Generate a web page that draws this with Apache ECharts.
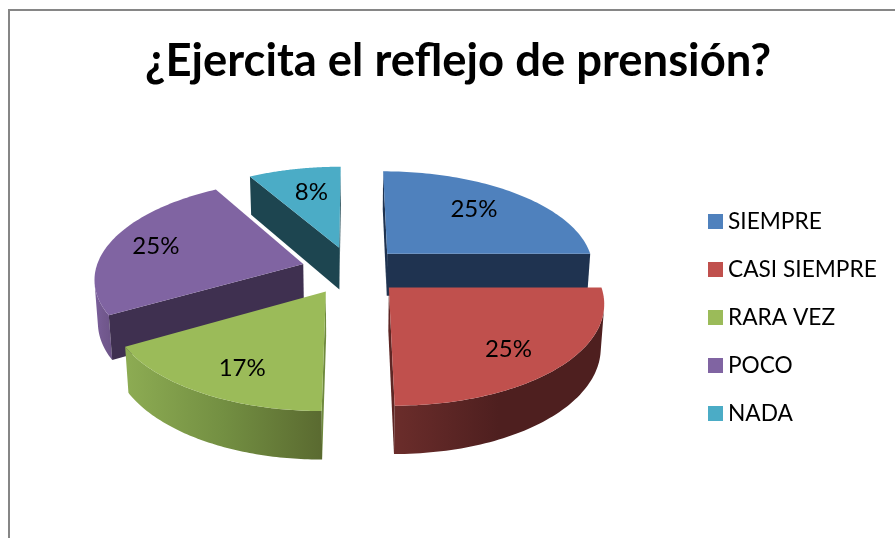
<!DOCTYPE html>
<html><head><meta charset="utf-8">
<style>html,body{margin:0;padding:0;background:#fff}#c{width:895px;height:538px}</style>
<script src="https://cdn.jsdelivr.net/npm/echarts@6/dist/echarts.min.js"></script>
</head><body><div id="c"></div>
<script>
const titleText = '¿Ejercita el reflejo de prensión?';
const categories = ['SIEMPRE', 'CASI SIEMPRE', 'RARA VEZ', 'POCO', 'NADA'];
const values = [3, 3, 2, 3, 1];

// styles
const topColors = ['#4F81BD', '#C0504D', '#9BBB59', '#8064A2', '#4BACC6'];
const wallColors = ['#1F3350', '#5E2624', '#6F8A3E', '#3F3050', '#1D4550'];
const rimStops = [
  ['#1F3350', '#1F3350', '#1F3350'],
  ['#6B2D2B', '#4E1F1F', '#4E1F1F'],
  ['#8DAC53', '#738F42', '#5A6A30'],
  ['#7A5F9B', '#73598F', '#6C5488'],
  ['#1D4550', '#1D4550', '#1D4550']
];
const drawOrder = [4, 0, 3, 2, 1];   // back to front
const labelRadius = [0.72, 0.74, 0.72, 0.74, 0.66];
const labelNudge = [[-8, 0], [-3, 4], [3, 6], [-5, 0], [3, -2]];

// perspective camera fitted to the picture (pie radius = 1)
const cam = { vx: 352, vy: -461.5, ax: 1560, by: 5495, t: 7.51, depthB: 398, depthT: 0.1, explode: 0.245 };
function project(X, Y, low) {
  const s = cam.t + Y + (low ? cam.depthT : 0);
  return [cam.vx + cam.ax * X / s, cam.vy + (cam.by + (low ? cam.depthB : 0)) / s];
}
function area(q) {
  let a = 0;
  for (let i = 0; i < q.length; i++) {
    const p = q[i], n = q[(i + 1) % q.length];
    a += p[0] * n[1] - n[0] * p[1];
  }
  return a;
}

const total = values.reduce((a, b) => a + b, 0);
const starts = [];
values.reduce((acc, v, i) => { starts[i] = acc; return acc + v; }, 0);

function renderSlice(i, api) {
  const value = api.value(0);
  const a0 = starts[i] / total * 2 * Math.PI;
  const a1 = a0 + value / total * 2 * Math.PI;
  const mid = (a0 + a1) / 2;
  const ox = cam.explode * Math.sin(mid), oy = cam.explode * Math.cos(mid);
  const world = a => [ox + Math.sin(a), oy + Math.cos(a)];
  const steps = 72;
  const rim = [];
  for (let k = 0; k <= steps; k++) rim.push(world(a0 + (a1 - a0) * k / steps));
  const T = p => project(p[0], p[1], false), B = p => project(p[0], p[1], true);
  const apex = [ox, oy];
  const children = [];

  // outer rim: only the segments that face the viewer
  const rimTop = [], rimBot = [];
  for (let k = 0; k < steps; k++) {
    const quad = [T(rim[k]), T(rim[k + 1]), B(rim[k + 1]), B(rim[k])];
    if (area(quad) < 0) {
      if (!rimTop.length) { rimTop.push(quad[0]); rimBot.push(quad[3]); }
      rimTop.push(quad[1]); rimBot.push(quad[2]);
    }
  }
  if (rimTop.length) {
    children.push({
      type: 'polygon', shape: { points: rimTop.concat(rimBot.reverse()) },
      style: { fill: new echarts.graphic.LinearGradient(0, 0, 1, 0, [
        { offset: 0, color: rimStops[i][0] },
        { offset: 0.5, color: rimStops[i][1] },
        { offset: 1, color: rimStops[i][2] }
      ]), stroke: null }
    });
  }
  // cut walls
  [[apex, rim[0]], [rim[steps], apex]].forEach(e => {
    const quad = [T(e[0]), T(e[1]), B(e[1]), B(e[0])];
    if (area(quad) < 0) {
      children.push({ type: 'polygon', shape: { points: quad }, style: { fill: wallColors[i] } });
    }
  });
  // top face
  children.push({
    type: 'polygon', shape: { points: [apex].concat(rim).map(T) },
    style: { fill: topColors[i] }
  });
  // percent label
  const lr = labelRadius[i];
  const lp = T([ox + lr * Math.sin(mid), oy + lr * Math.cos(mid)]);
  children.push({
    type: 'text', x: lp[0] + labelNudge[i][0], y: lp[1] + labelNudge[i][1],
    style: {
      text: Math.round(value / total * 100) + '%',
      fill: '#000', font: '24px Lato', align: 'center', verticalAlign: 'middle'
    }
  });
  return { type: 'group', children };
}

const chart = echarts.init(document.getElementById('c'), null, { renderer: 'canvas' });
chart.setOption({
  animation: false,
  backgroundColor: '#fff',
  title: {
    text: titleText, left: 140, top: 34,
    textStyle: { fontFamily: 'Lato', fontWeight: 'bold', fontSize: 45.4, color: '#000' }
  },
  legend: {
    orient: 'vertical', left: 708, top: 208.5, padding: 0, icon: 'rect',
    itemWidth: 15, itemHeight: 15, itemGap: 22,
    data: categories,
    textStyle: { fontFamily: 'Lato', fontSize: 22.7, color: '#000', lineHeight: 26 }
  },
  graphic: [{
    type: 'rect', silent: true, z: -1,
    shape: { x: 9, y: 10, width: 1000, height: 1000 },
    style: { fill: 'none', stroke: '#868686', lineWidth: 2 }
  }],
  series: categories.map((name, i) => ({
    type: 'custom', name, coordinateSystem: 'none',
    z: 2 + drawOrder.indexOf(i), silent: true,
    itemStyle: { color: topColors[i] },
    data: [[values[i]]],
    renderItem: (params, api) => renderSlice(i, api)
  }))
});
</script></body></html>
